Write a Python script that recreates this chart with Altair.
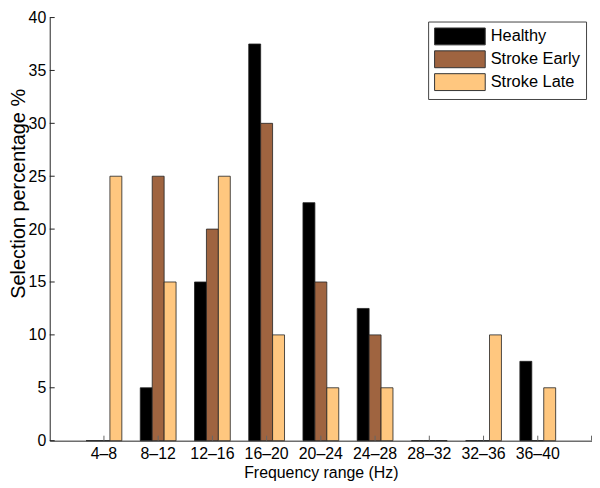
import altair as alt
import pandas as pd

categories = ["4–8", "8–12", "12–16", "16–20", "20–24", "24–28", "28–32", "32–36", "36–40"]
groups = ["Healthy", "Stroke Early", "Stroke Late"]
healthy = [0, 5, 15, 37.5, 22.5, 12.5, 0, 0, 7.5]
stroke_early = [0, 25, 20, 30, 15, 10, 0, 0, 0]
stroke_late = [25, 15, 25, 10, 5, 5, 0, 10, 5]
y_ticks = [0, 5, 10, 15, 20, 25, 30, 35, 40]
colors = ["#000000", "#9F6440", "#FFC77F"]

rows = []
for g, vals in zip(groups, [healthy, stroke_early, stroke_late]):
    for c, v in zip(categories, vals):
        rows.append({"range": c, "group": g, "value": v})
df = pd.DataFrame(rows)

W, H = 546, 426
FONT = "Liberation Sans"

x_enc = alt.X(
    "range:N", sort=categories,
    scale=alt.Scale(paddingInner=0.34, paddingOuter=0.67),
    axis=alt.Axis(title="Frequency range (Hz)", labelAngle=0, ticks=False,
                  labelPadding=5, titlePadding=3),
)

bars = alt.Chart(df).mark_bar(stroke="#222222", strokeWidth=0.8).encode(
    x=x_enc,
    xOffset=alt.XOffset("group:N", sort=groups),
    y=alt.Y("value:Q", scale=alt.Scale(domain=[0, 40], nice=False),
            axis=alt.Axis(title="Selection percentage %", values=y_ticks, ticks=False,
                          labelPadding=4, titlePadding=0, titleFontSize=20,
                          titleY=177)),
    color=alt.Color("group:N", sort=groups,
                    scale=alt.Scale(domain=groups, range=colors),
                    legend=alt.Legend(
                        title=None, orient="none", legendX=381, legendY=4,
                        symbolType="M-1,-1L5,-1L5,1L-1,1Z",
                        symbolSize=289, symbolStrokeColor="#333333",
                        symbolStrokeWidth=1, labelFontSize=16.5, labelFont=FONT,
                        labelColor="black", padding=6, strokeColor="#444444",
                        fillColor="white", rowPadding=1, labelOffset=39)),
)

ytick_df = pd.DataFrame({"v": y_ticks})
yticks = alt.Chart(ytick_df).mark_rule(color="#222222", strokeWidth=1).encode(
    y="v:Q", x=alt.value(0), x2=alt.value(5)
)

xtick_df = pd.DataFrame({"range": categories})
xticks = alt.Chart(xtick_df).mark_rule(color="#666666", strokeWidth=1).encode(
    x=alt.X("range:N", sort=categories), y=alt.value(H), y2=alt.value(H - 5)
)
xend = alt.Chart(xtick_df.head(1)).mark_rule(color="#666666", strokeWidth=1).encode(
    x=alt.value(W - 0.5), y=alt.value(H), y2=alt.value(H - 5)
)

chart = alt.layer(bars, yticks, xticks, xend).properties(
    width=W, height=H,
    padding={"left": 0, "top": 0, "right": 0, "bottom": 0},
).configure_view(stroke=None).configure_axis(
    grid=False, domainColor="#222222", domainWidth=1,
    labelFont=FONT, labelFontSize=16, labelColor="black",
    titleFont=FONT, titleFontSize=16, titleFontWeight="normal", titleColor="black",
).configure_legend(labelFont=FONT)

chart.save("out.html", embed_options={"renderer": "svg", "actions": False})
